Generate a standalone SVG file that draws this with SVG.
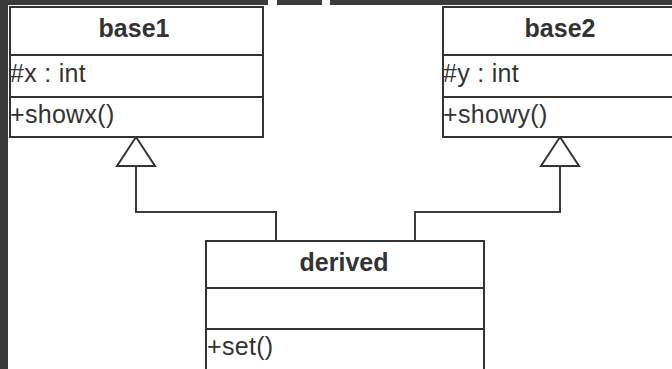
<svg xmlns="http://www.w3.org/2000/svg" width="672" height="369" viewBox="0 0 672 369">
<style>
.box{fill:#fff;stroke:#333;stroke-width:2}
.div{stroke:#333;stroke-width:2}
.title{font-family:"Liberation Sans",Arial,sans-serif;font-weight:bold;font-size:25px;fill:#333;text-anchor:middle}
.mem{font-family:"Liberation Sans",Arial,sans-serif;font-size:25px;fill:#333;letter-spacing:0.3px}
.conn{fill:none;stroke:#3a3a3a;stroke-width:2}
.frame{fill:#3a3a3a}
</style>
<defs>
<marker id="tri" markerUnits="userSpaceOnUse" viewBox="-2 -21 33 42" markerWidth="33" markerHeight="42" refX="0" refY="0" orient="auto">
<path d="M0,-19 L29,0 L0,19 Z" fill="#fff" stroke="#333" stroke-width="2"/>
</marker>
</defs>
<rect width="672" height="369" fill="#fff"/>
<g id="frame">
<rect class="frame" x="0" y="0" width="8" height="369"/>
<rect class="frame" x="0" y="0" width="268" height="5"/>
<rect class="frame" x="277" y="0" width="45" height="5"/>
<rect class="frame" x="330" y="0" width="342" height="5"/>
</g>
<g id="connectors">
<path class="conn" d="M276,241 V212 H136 V166" marker-end="url(#tri)"/>
<path class="conn" d="M415,241 V212 H560 V166" marker-end="url(#tri)"/>
</g>
<g id="base1">
<rect class="box" x="10" y="7" width="253" height="130"/>
<line class="div" x1="10" y1="55" x2="263" y2="55"/>
<line class="div" x1="10" y1="97" x2="263" y2="97"/>
<text class="title" x="134" y="37">base1</text>
<text class="mem" x="10" y="82">#x : int</text>
<text class="mem" x="10" y="123">+showx()</text>
</g>
<g id="base2">
<rect class="box" x="443" y="7" width="250" height="130"/>
<line class="div" x1="443" y1="55" x2="693" y2="55"/>
<line class="div" x1="443" y1="97" x2="693" y2="97"/>
<text class="title" x="560" y="37">base2</text>
<text class="mem" x="443" y="82">#y : int</text>
<text class="mem" x="443" y="123">+showy()</text>
</g>
<g id="derived">
<rect class="box" x="206" y="241" width="278" height="140"/>
<line class="div" x1="206" y1="288" x2="484" y2="288"/>
<line class="div" x1="206" y1="329" x2="484" y2="329"/>
<text class="title" x="344" y="271">derived</text>
<text class="mem" x="207" y="355">+set()</text>
</g>
</svg>
